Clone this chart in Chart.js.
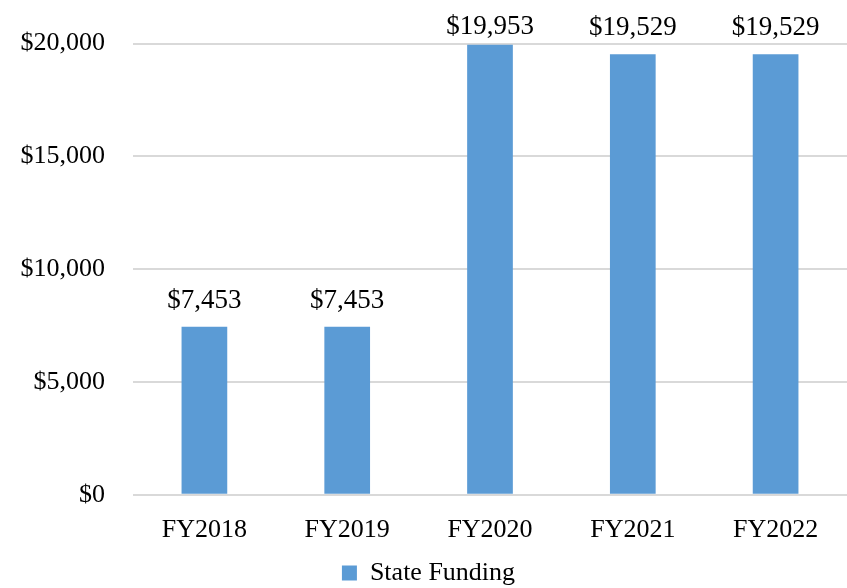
<!DOCTYPE html>
<html>
<head>
<meta charset="utf-8">
<script src="https://cdn.jsdelivr.net/npm/chart.js@4"></script>
<style>
  html, body { margin: 0; padding: 0; background: #fff; }
  #wrap { width: 847px; height: 588px; }
</style>
</head>
<body>
<div id="wrap"><canvas id="grafico"></canvas></div>
<script>
// Dados
const anos = ['FY2018', 'FY2019', 'FY2020', 'FY2021', 'FY2022'];
const financiamento = [7453, 7453, 19953, 19529, 19529];
const ticksY = [0, 5000, 10000, 15000, 20000];

const fmt = (v) => '$' + v.toLocaleString('en-US');
const fonte = '"Liberation Serif", serif';

// rotulos acima das barras (presos dentro do canvas no topo)
const rotulos = {
  id: 'rotulos',
  afterDatasetsDraw(chart) {
    const ctx = chart.ctx;
    const meta = chart.getDatasetMeta(0);
    ctx.save();
    ctx.font = '27px ' + fonte;
    ctx.fillStyle = '#000';
    ctx.textAlign = 'center';
    ctx.textBaseline = 'alphabetic';
    meta.data.forEach((bar, i) => {
      ctx.fillText(fmt(financiamento[i]), bar.x, Math.max(bar.y - 19, 34));
    });
    ctx.restore();
  },
};

const ctx = document.getElementById('grafico').getContext('2d');
new Chart(ctx, {
  type: 'bar',
  data: {
    labels: anos,
    datasets: [
      {
        label: 'State Funding',
        data: financiamento,
        backgroundColor: '#5b9bd5',
        categoryPercentage: 1,
        barPercentage: 0.32,
      },
    ],
  },
  options: {
    responsive: true,
    maintainAspectRatio: false,
    animation: false,
    layout: { padding: { top: 0, right: 0, left: 10, bottom: -8 } },
    plugins: {
      legend: {
        position: 'bottom',
        labels: {
          boxWidth: 15,
          boxHeight: 15,
          color: '#000',
          font: { family: fonte, size: 26 },
          padding: 2,
        },
      },
      tooltip: { enabled: false },
    },
    scales: {
      x: {
        grid: { display: false },
        border: { display: false },
        ticks: {
          color: '#000',
          font: { family: fonte, size: 26 },
          padding: 12,
        },
      },
      y: {
        min: 0,
        max: 20000,
        afterBuildTicks: (axis) => {
          axis.ticks = ticksY.map((v) => ({ value: v }));
        },
        afterFit: (axis) => {
          axis.width = 123;
        },
        grid: { color: '#d9d9d9', lineWidth: 2, drawTicks: false },
        border: { display: false },
        ticks: {
          color: '#000',
          font: { family: fonte, size: 26 },
          padding: 28,
          callback: (v) => fmt(v),
        },
      },
    },
  },
  plugins: [rotulos],
});
</script>
</body>
</html>
